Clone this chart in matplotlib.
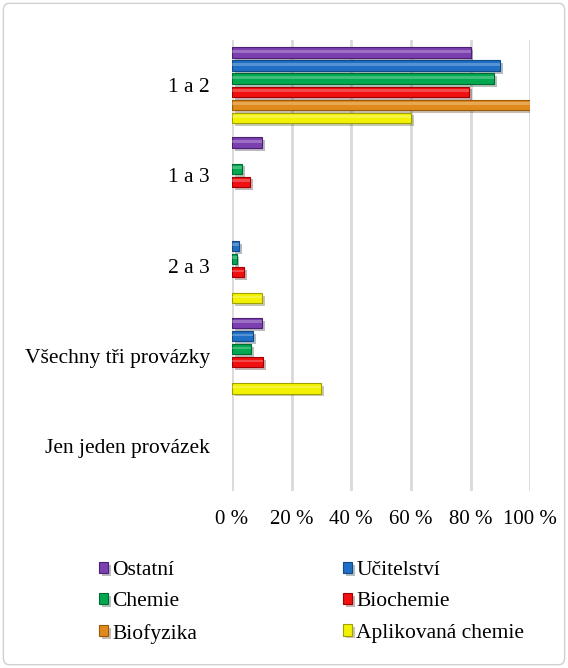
import matplotlib.pyplot as plt
import matplotlib.patheffects as pe
from matplotlib.patches import FancyBboxPatch
import numpy as np

plt.rcParams['font.family'] = ['Liberation Serif', 'DejaVu Serif']

categories = ["1 a 2", "1 a 3", "2 a 3", "Všechny tři provázky", "Jen jeden provázek"]
series = ["Ostatní", "Učitelství", "Chemie", "Biochemie", "Biofyzika", "Aplikovaná chemie"]

ostatni = [80, 10, 0, 10, 0]
ucitelstvi = [90, 0, 2.5, 7, 0]
chemie = [88, 3.5, 1.5, 6.5, 0]
biochemie = [79.5, 6, 4, 10.5, 0]
biofyzika = [100, 0, 0, 0, 0]
aplikovana = [60, 0, 10, 30, 0]

values = [ostatni, ucitelstvi, chemie, biochemie, biofyzika, aplikovana]
colors = ['#7b3fb0', '#1f6fc5', '#00a850', '#f01010', '#e08a1c', '#f2f200']
edges = ['#4a2070', '#124a85', '#006a30', '#a00000', '#9a5a08', '#a0a000']

fig = plt.figure(figsize=(5.68, 6.68), dpi=100)
ax = fig.add_axes([0.4085, 0.265, 0.525, 0.675])

y = np.arange(len(categories))
slot = 0.145
bh = 0.115
shadow = [pe.SimplePatchShadow(offset=(2, -2), alpha=0.3), pe.Normal()]
handles = []
for i, (name, vals) in enumerate(zip(series, values)):
    pos = y + (i - 2.5) * slot
    bars = ax.barh(pos, vals, height=bh, color=colors[i], edgecolor=edges[i],
                   linewidth=0.8, label=name, zorder=3)
    for b in bars:
        if b.get_width() > 0:
            b.set_path_effects(shadow)
        else:
            b.set_visible(False)
    # highlight strip for the bevel look
    ax.barh(pos - bh * 0.12, vals, height=bh * 0.25, color='white', alpha=0.25,
            linewidth=0, zorder=4)
    handles.append(bars)

ax.set_ylim(len(categories) - 0.5, -0.5)
ax.set_xlim(0, 100)
ax.set_yticks(y)
ax.set_yticklabels(categories, fontsize=15.5)
ax.set_xticks([0, 20, 40, 60, 80, 100])
ax.set_xticklabels(['0 %', '20 %', '40 %', '60 %', '80 %', '100 %'], fontsize=15)
ax.tick_params(length=0, pad=16)
ax.tick_params(axis='x', pad=14)
ax.grid(axis='x', color='#d9d9d9', linewidth=2, zorder=0)
for s in ['top', 'right', 'bottom', 'left']:
    ax.spines[s].set_visible(False)

left = [handles[0], handles[2], handles[4]]
right = [handles[1], handles[3], handles[5]]
kw = dict(frameon=False, fontsize=15.5, handlelength=0.42, handleheight=0.42,
          handletextpad=0.2, labelspacing=0.57, borderaxespad=0, borderpad=0)
fig.legend(left, [series[0], series[2], series[4]], loc='upper left',
           bbox_to_anchor=(99 / 568, 0.16), bbox_transform=fig.transFigure, **kw)
fig.legend(right, [series[1], series[3], series[5]], loc='upper left',
           bbox_to_anchor=(343 / 568, 0.16), bbox_transform=fig.transFigure, **kw)

border = FancyBboxPatch((0.006, 0.005), 0.988, 0.99, boxstyle='round,pad=0,rounding_size=0.01',
                        transform=fig.transFigure, fill=False, edgecolor='#d0d0d0', linewidth=1)
fig.patches.append(border)

fig.savefig('out.png', dpi=100)
